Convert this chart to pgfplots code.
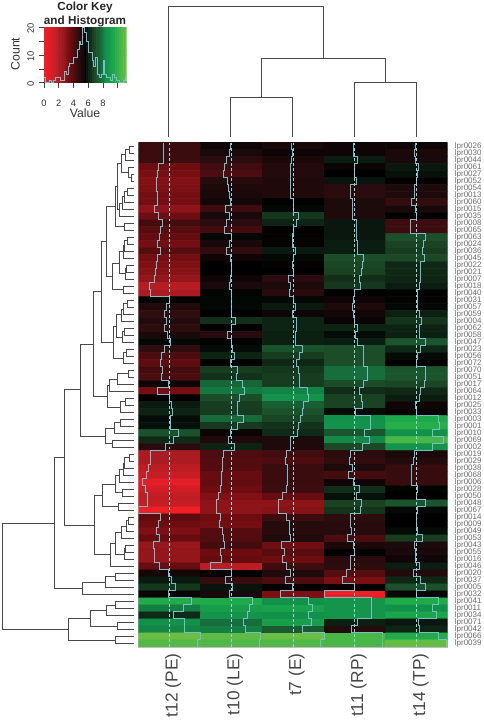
\documentclass[border=0pt]{standalone}
\usepackage{fontspec}
\setmainfont{Liberation Sans}
\usepackage{pgfplots}
\usepackage{pgfplotstable}
\pgfplotsset{compat=1.18}
\definecolor{trc}{RGB}{122,188,200}
\definecolor{dend}{RGB}{72,72,72}
\pgfplotsset{colormap={rg}{rgb255(0pt)=(238,32,38); rgb255(15pt)=(225,30,40); rgb255(40pt)=(170,28,33); rgb255(65pt)=(110,12,16); rgb255(85pt)=(45,12,14); rgb255(95pt)=(25,9,10); rgb255(100pt)=(0,0,0); rgb255(105pt)=(8,20,12); rgb255(110pt)=(13,35,20); rgb255(125pt)=(28,72,38); rgb255(140pt)=(22,110,60); rgb255(150pt)=(18,145,75); rgb255(170pt)=(30,170,75); rgb255(185pt)=(65,181,72); rgb255(200pt)=(106,189,69)}}
\pgfplotstableread{
id a b c d e
lpr0026 -19 -3 -5 -3 -3
lpr0030 -19 -5 -3 -3 -6
lpr0044 -19 -14 -6 8 -5
lpr0061 -35 -21 -10 -2 6
lpr0027 -39 -25 -10 0 4
lpr0052 -43 -12 -8 5 -1
lpr0054 -41 -8 -8 -14 -7
lpr0013 -38 -5 -9 -14 -8
lpr0060 -38 -4 0 -7 -17
lpr0015 -48 -20 2 -7 -5
lpr0035 -36 -5 18 -8 0
lpr0008 -22 -14 10 6 -20
lpr0065 -28 -22 0 6 -20
lpr0063 -32 2 -1 6 28
lpr0024 -38 -5 -1 8 23
lpr0036 -28 -16 7 8 20
lpr0045 -38 -3 2 27 25
lpr0022 -42 0 -1 24 12
lpr0021 -46 0 0 22 12
lpr0007 -50 -3 -14 15 11
lpr0018 -66 -5 -8 18 8
lpr0040 -60 1 -13 0 1
lpr0031 -1 2 2 -3 1
lpr0057 -9 2 7 -8 2
lpr0059 -16 0 -3 -4 9
lpr0004 -10 15 10 -2 17
lpr0062 -15 0 10 10 10
lpr0058 -6 -13 9 3 9
lpr0047 2 1 9 8 30
lpr0023 -16 3 29 27 12
lpr0056 -25 10 20 27 3
lpr0072 -30 -1 12 27 0
lpr0070 -22 20 18 40 30
lpr0051 -25 16 20 40 30
lpr0017 -3 37 20 27 24
lpr0064 -38 43 46 14 12
lpr0012 0 27 51 22 8
lpr0025 7 21 34 23 -3
lpr0033 10 20 29 3 -1
lpr0003 3 38 24 50 70
lpr0001 4 19 16 51 74
lpr0010 29 -2 13 30 50
lpr0069 13 -8 -7 48 88
lpr0002 -14 10 -8 25 52
lpr0019 -60 -25 -21 -14 -6
lpr0029 -60 -27 -25 -16 -10
lpr0038 -68 -27 -19 -8 -18
lpr0068 -73 -33 -19 -22 -18
lpr0006 -86 -32 -19 -3 -18
lpr0028 -78 -35 -20 14 1
lpr0050 -70 -43 -33 4 0
lpr0048 -72 -48 -48 22 30
lpr0067 -100 -48 -46 17 2
lpr0014 -30 -35 -20 -15 0
lpr0009 -35 -38 -11 -13 0
lpr0049 -42 -27 -13 -12 3
lpr0053 -33 -26 -9 -24 20
lpr0043 -52 -22 -36 -6 -7
lpr0055 -50 -35 -28 0 -5
lpr0016 -50 -32 -35 -14 -3
lpr0046 -33 -68 -20 -15 8
lpr0020 -4 0 -9 -28 -10
lpr0037 7 -18 -25 -40 12
lpr0005 18 5 -1 0 28
lpr0032 -2 -5 -41 -100 -2
lpr0041 72 70 50 53 71
lpr0011 45 60 63 53 50
lpr0034 13 52 50 53 65
lpr0071 50 40 61 9 6
lpr0042 47 45 32 -10 10
lpr0066 100 96 100 88 72
lpr0039 92 90 90 88 98
}\hm
\pgfplotstableread{
x count
0.00 2
0.25 0
0.50 0
0.75 1
1.00 0
1.25 1
1.50 2
1.75 2
2.00 2
2.25 1
2.50 1
2.75 4
3.00 3
3.25 6
3.50 7
3.75 7
4.00 9
4.25 9
4.50 12
4.75 15
5.00 14
5.25 20
5.50 18
5.75 15
6.00 11
6.25 11
6.50 8
6.75 6
7.00 9
7.25 3
7.50 2
7.75 3
8.00 8
8.25 3
8.50 2
8.75 2
9.00 1
9.25 3
9.50 2
9.75 1
10.00 1
10.25 0
10.50 0
10.75 1
11.00 2
11.20 2
}\hist
\newcommand\plotcells[1]{\addplot[matrix plot*,mesh/cols=5,point meta=explicit] coordinates {#1};}
\newcommand\plotkey[1]{\addplot[matrix plot*,mesh/cols=41,point meta=explicit] coordinates {#1};}
\newcommand\plottrace[1]{\addplot[trc,line width=.6pt] coordinates {#1};}
\newcommand\maketrace[3]{%
  \gdef\tr{}%
  \foreach \r in {0,...,71}{%
    \pgfplotstablegetelem{\r}{#1}\of\hm
    \pgfmathsetmacro\X{#2+.5+\pgfplotsretval/200}%
    \pgfmathsetmacro\A{\r-.5}\pgfmathsetmacro\B{\r+.5}%
    \xdef\tr{\tr (\X,\A)(\X,\B)}%
  }%
  \global\expandafter\let\csname #3\endcsname\tr
}
\begin{document}
\begin{tikzpicture}[x=.75pt,y=-.75pt,font=\fontsize{6}{7}\selectfont]
\useasboundingbox (0,0) rectangle (484,723);
\gdef\cells{}
\foreach \r in {0,...,71}{\foreach \n/\c in {0/a,1/b,2/c,3/d,4/e}{%
  \pgfplotstablegetelem{\r}{\c}\of\hm
  \pgfmathsetmacro\X{\n+.5}%
  \xdef\cells{\cells (\X,\r) [\pgfplotsretval]}}}
\maketrace{a}{0}{tra}\maketrace{b}{1}{trb}\maketrace{c}{2}{trc}\maketrace{d}{3}{trd}\maketrace{e}{4}{tre}
\gdef\keycells{}
\foreach \y in {0,20}{\foreach \i in {0,...,40}{%
  \pgfmathsetmacro\X{\i*0.28}\pgfmathsetmacro\M{\i*5-100}%
  \xdef\keycells{\keycells (\X,\y) [\M]}}}
% main heat map
\begin{axis}[at={(103.875pt,-106.875pt)},anchor=north west,scale only axis,width=231.75pt,height=378.3pt,
  xmin=0,xmax=5,ymin=-.5,ymax=71.5,y dir=reverse,
  point meta min=-100,point meta max=100,colormap name=rg,
  axis line style={draw=black!25,line width=.3pt},
  major tick length=0pt,
  xtick=\empty,
  ytick={0,...,71},yticklabels from table={\hm}{id},
  yticklabel pos=right,
  yticklabel style={anchor=west,font=\fontsize{6}{6}\selectfont,text=black!58,xshift=2pt},
  ]
\expandafter\plotcells\expandafter{\cells}
\expandafter\plottrace\expandafter{\tra}
\expandafter\plottrace\expandafter{\trb}
\expandafter\plottrace\expandafter{\trc}
\expandafter\plottrace\expandafter{\trd}
\expandafter\plottrace\expandafter{\tre}
\foreach \v in {.5,1.5,2.5,3.5,4.5}{\edef\tmp{\noexpand\addplot[trc!70!white,line width=.5pt,dash pattern=on 2.2pt off 1.6pt] coordinates {(\v,-.5)(\v,71.5)};}\tmp}
\end{axis}
% column dendrogram
\begin{axis}[at={(103.875pt,0pt)},anchor=north west,scale only axis,width=231.75pt,height=106.9pt,hide axis,
  xmin=138.5,xmax=447.5,ymin=0,ymax=142.5,y dir=reverse,clip=false]
\addplot[dend,line width=.6pt,unbounded coords=jump] coordinates {
(230.3,136.7)(230.3,97.3)(292.3,97.3)(292.3,136.7)(nan,nan)
(354.3,136.7)(354.3,82.3)(416.3,82.3)(416.3,136.7)(nan,nan)
(261.3,97.3)(261.3,58.7)(385.3,58.7)(385.3,82.3)(nan,nan)
(168.7,136.7)(168.7,6)(323,6)(323,58.7)};
\end{axis}
% row dendrogram
\begin{axis}[at={(0pt,-106.875pt)},anchor=north west,scale only axis,width=103.875pt,height=378.3pt,hide axis,
  xmin=0,xmax=138.5,ymin=-.5,ymax=71.5,y dir=reverse,clip=false]
\addplot[dend,line width=.55pt,unbounded coords=jump] coordinates {
(134,0)(129.3,0)(129.3,1)(134,1)(nan,nan)
(129.3,.5)(125.3,.5)(125.3,2)(134,2)(nan,nan)
(134,4)(131,4)(131,5)(134,5)(nan,nan)
(134,3)(128.7,3)(128.7,4.5)(131,4.5)(nan,nan)
(125.3,1.25)(121.3,1.25)(121.3,3.75)(128.7,3.75)(nan,nan)
(134,6)(127.7,6)(127.7,7)(134,7)(nan,nan)
(127.7,6.5)(124.3,6.5)(124.3,8)(134,8)(nan,nan)
(124.3,7.25)(122.3,7.25)(122.3,9)(134,9)(nan,nan)
(122.3,8.125)(119.3,8.125)(119.3,10)(134,10)(nan,nan)
(121.3,2.5)(117.7,2.5)(117.7,9.06)(119.3,9.06)(nan,nan)
(134,11)(124.3,11)(124.3,12)(134,12)(nan,nan)
(117.7,5.78)(115.3,5.78)(115.3,11.5)(124.3,11.5)(nan,nan)
(134,13)(127,13)(127,14)(134,14)(nan,nan)
(127,13.5)(124.3,13.5)(124.3,15)(134,15)(nan,nan)
(124.3,14.25)(123,14.25)(123,16)(134,16)(nan,nan)
(134,17)(126,17)(126,18)(134,18)(nan,nan)
(126,17.5)(125,17.5)(125,19)(134,19)(nan,nan)
(123,15.1)(119.3,15.1)(119.3,18.25)(125,18.25)(nan,nan)
(134,20)(123,20)(123,21)(134,21)(nan,nan)
(119.3,16.7)(112.7,16.7)(112.7,20.5)(123,20.5)(nan,nan)
(115.3,8.64)(106.7,8.64)(106.7,18.6)(112.7,18.6)(nan,nan)
(134,22)(127.3,22)(127.3,23)(134,23)(nan,nan)
(127.3,22.5)(123.3,22.5)(123.3,24)(134,24)(nan,nan)
(123.3,23.25)(121.7,23.25)(121.7,25)(134,25)(nan,nan)
(134,26)(124,26)(124,27)(134,27)(nan,nan)
(124,26.5)(122,26.5)(122,28)(134,28)(nan,nan)
(121.7,24.1)(116.3,24.1)(116.3,27.25)(122,27.25)(nan,nan)
(134,29)(126.7,29)(126.7,30)(134,30)(nan,nan)
(126.7,29.5)(123,29.5)(123,31)(134,31)(nan,nan)
(116.3,25.7)(113.3,25.7)(113.3,30.25)(123,30.25)(nan,nan)
(106.7,13.6)(101.3,13.6)(101.3,28)(113.3,28)(nan,nan)
(134,32)(128.3,32)(128.3,33)(134,33)(nan,nan)
(128.3,32.5)(117.3,32.5)(117.3,34)(134,34)(nan,nan)
(117.3,33.25)(109.7,33.25)(109.7,35)(134,35)(nan,nan)
(134,36)(125,36)(125,37)(134,37)(nan,nan)
(125,36.5)(120.3,36.5)(120.3,38)(134,38)(nan,nan)
(109.7,34.1)(107.3,34.1)(107.3,37.25)(120.3,37.25)(nan,nan)
(101.3,20.8)(93.3,20.8)(93.3,35.7)(107.3,35.7)(nan,nan)
(134,39)(120.7,39)(120.7,40)(134,40)(nan,nan)
(120.7,39.5)(114.7,39.5)(114.7,41)(134,41)(nan,nan)
(134,42)(112.7,42)(112.7,43)(134,43)(nan,nan)
(114.7,40.25)(105.3,40.25)(105.3,42.5)(112.7,42.5)(nan,nan)
(93.3,28.25)(80.3,28.25)(80.3,41.4)(105.3,41.4)(nan,nan)
(134,44)(129,44)(129,45)(134,45)(nan,nan)
(129,44.5)(124.7,44.5)(124.7,46)(134,46)(nan,nan)
(124.7,45.25)(123.3,45.25)(123.3,47)(134,47)(nan,nan)
(123.3,46.1)(119,46.1)(119,48)(134,48)(nan,nan)
(134,49)(122.7,49)(122.7,50)(134,50)(nan,nan)
(119,47.06)(115.7,47.06)(115.7,49.5)(122.7,49.5)(nan,nan)
(134,51)(118.3,51)(118.3,52)(134,52)(nan,nan)
(115.7,48.3)(102.7,48.3)(102.7,51.5)(118.3,51.5)(nan,nan)
(134,53)(128.3,53)(128.3,54)(134,54)(nan,nan)
(128.3,53.5)(126.7,53.5)(126.7,55)(134,55)(nan,nan)
(126.7,54.25)(121.7,54.25)(121.7,56)(134,56)(nan,nan)
(134,57)(125.7,57)(125.7,58)(134,58)(nan,nan)
(125.7,57.5)(124.7,57.5)(124.7,59)(134,59)(nan,nan)
(121.7,55.1)(115.7,55.1)(115.7,58.25)(124.7,58.25)(nan,nan)
(115.7,56.7)(110,56.7)(110,60)(134,60)(nan,nan)
(102.7,49.9)(94.7,49.9)(94.7,58.35)(110,58.35)(nan,nan)
(134,61)(115,61)(115,62)(134,62)(nan,nan)
(115,61.5)(105.3,61.5)(105.3,63)(134,63)(nan,nan)
(105.3,62.25)(82.7,62.25)(82.7,64)(134,64)(nan,nan)
(80.3,34.8)(64,34.8)(64,54.1)(94.7,54.1)(nan,nan)
(64,44.45)(54.7,44.45)(54.7,63.1)(82.7,63.1)(nan,nan)
(134,65)(115,65)(115,66)(134,66)(nan,nan)
(115,65.5)(106.3,65.5)(106.3,67)(134,67)(nan,nan)
(134,68)(117.7,68)(117.7,69)(134,69)(nan,nan)
(106.3,66.25)(90.7,66.25)(90.7,68.5)(117.7,68.5)(nan,nan)
(134,70)(115.3,70)(115.3,71)(134,71)(nan,nan)
(90.7,67.4)(68.3,67.4)(68.3,70.5)(115.3,70.5)(nan,nan)
(54.7,53.8)(2.7,53.8)(2.7,68.95)(68.3,68.95)};
\end{axis}
% colour key
\begin{axis}[at={(33pt,-20.5pt)},anchor=north west,scale only axis,width=62pt,height=41.55pt,
  xmin=0,xmax=11.2,ymin=0,ymax=20,
  point meta min=-100,point meta max=100,colormap name=rg,
  axis x line=bottom,axis y line=left,axis line style={-,draw=black!75,line width=.5pt},
  tick style={draw=black!75,line width=.5pt},tick align=outside,major tick length=4pt,
  xtick={0,2,4,6,8,10},xticklabels={0,2,4,6,8,},
  ytick={0,5,10,15,20},yticklabels={0,,10,,20},
  xticklabel style={font=\fontsize{7}{7}\selectfont,text=black!80,yshift=-5.5pt},
  yticklabel style={font=\fontsize{7}{7}\selectfont,text=black!80,rotate=90,anchor=south,xshift=-1pt},
  ]
\expandafter\plotkey\expandafter{\keycells}
\addplot[const plot,trc,line width=.65pt] table[x=x,y=count] {\hist};
\end{axis}
\node[font=\bfseries\fontsize{8.8}{8.8}\selectfont,text=black!85] at (85,7.5) {Color Key};
\node[font=\bfseries\fontsize{8.8}{8.8}\selectfont,text=black!85] at (85,21) {and Histogram};
\node[font=\fontsize{9.2}{9.2}\selectfont,text=black!80] at (85,113) {Value};
\node[font=\fontsize{9.2}{9.2}\selectfont,text=black!80,rotate=90] at (15.5,54) {Count};
\foreach \x/\t in {177.5/t12 (PE),239.3/t10 (LE),301/t7 (E),363/t11 (RP),425/t14 (TP)}{
  \node[rotate=90,anchor=base east,inner sep=0pt,font=\fontsize{13}{13}\selectfont,text=black!72] at (\x,653.3) {\t};}
\end{tikzpicture}
\end{document}
